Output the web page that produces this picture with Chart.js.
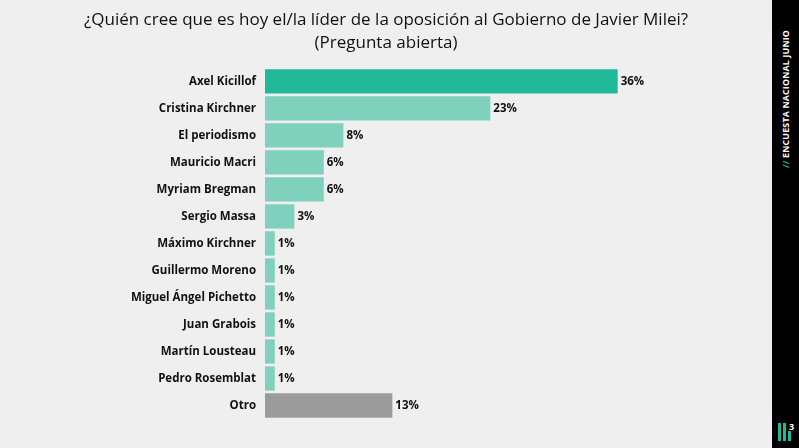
<!DOCTYPE html>
<html><head><meta charset="utf-8">
<script src="https://cdn.jsdelivr.net/npm/chart.js@4.4.1/dist/chart.umd.min.js"></script>
<style>
html,body{margin:0;padding:0;background:#efefef;width:799px;height:448px;overflow:hidden;font-family:"Open Sans",sans-serif;}
#wrap{position:absolute;left:0;top:0;width:772px;height:448px;}
#side{position:absolute;left:772px;top:0;width:27px;height:448px;background:#000;}
#vt{position:absolute;left:50%;top:99px;transform:translate(-50%,-50%) rotate(-90deg);white-space:nowrap;color:#fff;font:700 8.8px "Open Sans",sans-serif;letter-spacing:0.2px;}
#vt span{color:#22b89a;}
#logo{position:absolute;left:6px;top:421px;width:18px;height:20px;}
#logo i{position:absolute;bottom:0;width:3px;background:#22b89a;}
#logo b{position:absolute;left:11px;top:-1px;color:#fff;font:700 9px "Open Sans",sans-serif;}
</style></head>
<body>
<div id="wrap"><canvas id="c" width="772" height="448"></canvas></div>
<div id="side"><div id="vt"><span>//</span> ENCUESTA NACIONAL JUNIO</div>
<div id="logo"><i style="left:0;height:18px"></i><i style="left:5px;height:18px"></i><i style="left:10px;height:10px"></i><b>3</b></div></div>
<script>
const categories = ["Axel Kicillof","Cristina Kirchner","El periodismo","Mauricio Macri","Myriam Bregman","Sergio Massa","Máximo Kirchner","Guillermo Moreno","Miguel Ángel Pichetto","Juan Grabois","Martín Lousteau","Pedro Rosemblat","Otro"];
const values = [36,23,8,6,6,3,1,1,1,1,1,1,13];
const titleLines = ["¿Quién cree que es hoy el/la líder de la oposición al Gobierno de Javier Milei?","(Pregunta abierta)"];
const colors = categories.map((c,i)=> i===0 ? "#22b89a" : (c==="Otro" ? "#9b9b9b" : "#7fd1bd"));

const labelPlugin = {
  id:'vals',
  afterDatasetsDraw(chart){
    const ctx = chart.ctx;
    const meta = chart.getDatasetMeta(0);
    ctx.save();
    ctx.font = '700 11.5px "Open Sans", sans-serif';
    ctx.fillStyle = '#111';
    ctx.textBaseline = 'middle';
    ctx.textAlign = 'left';
    meta.data.forEach((bar,i)=>{
      ctx.fillText(values[i]+'%', bar.x+3, bar.y);
    });
    ctx.restore();
  }
};

new Chart(document.getElementById('c'),{
  type:'bar',
  data:{labels:categories,datasets:[{data:values,backgroundColor:colors,borderWidth:0,barPercentage:0.9,categoryPercentage:1}]},
  options:{
    indexAxis:'y',responsive:false,animation:false,
    layout:{padding:{left:0,right:0,top:1,bottom:29}},
    plugins:{
      legend:{display:false},tooltip:{enabled:false},
      title:{display:true,text:titleLines,color:'#111',font:{family:'"Open Sans", sans-serif',size:17,weight:'normal',lineHeight:1.35},padding:{top:8,bottom:13}}
    },
    scales:{
      x:{display:false,min:0,max:51.75},
      y:{grid:{display:false},border:{display:false},
         ticks:{color:'#111',padding:1,font:{family:'"Open Sans", sans-serif',size:11.5,weight:'bold'}},
         afterFit(s){s.width=265;}}
    }
  },
  plugins:[labelPlugin]
});
</script>
</body></html>
